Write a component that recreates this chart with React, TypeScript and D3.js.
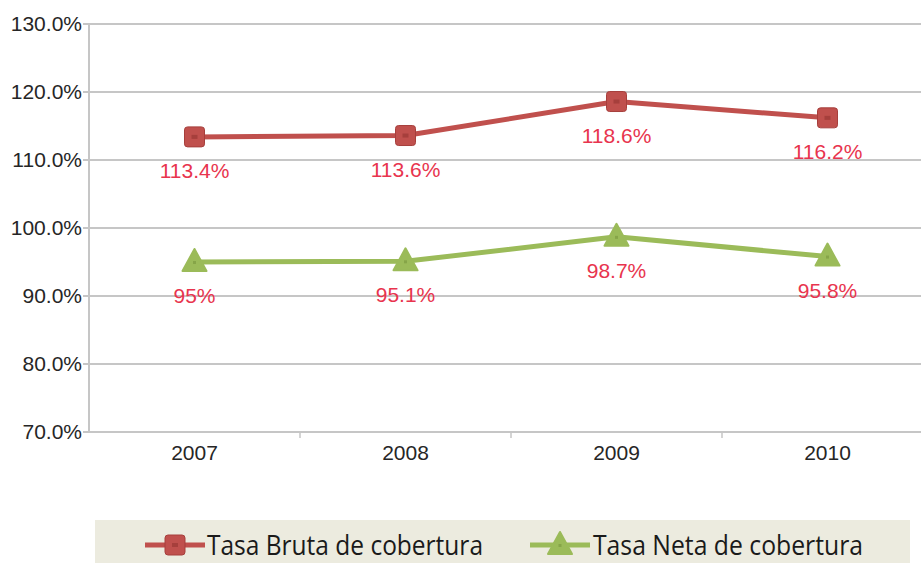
import React, { useEffect, useRef } from 'react';
import * as d3 from 'd3';

// categories and series (percent values)
const years = ['2007', '2008', '2009', '2010'];
const tasaBruta = [113.4, 113.6, 118.6, 116.2];
const tasaNeta = [95, 95.1, 98.7, 95.8];
const yTicks = [70, 80, 90, 100, 110, 120, 130];
const seriesNames = ['Tasa Bruta de cobertura', 'Tasa Neta de cobertura'];

const W = 921;
const H = 563;
const RED = '#c0504d';
const RED_DARK = '#a63f3c';
const GREEN = '#9bbb59';
const GREEN_DARK = '#86a548';
const LABEL = '#e8344e';
const FONT = 'Arial, "Liberation Sans", sans-serif';

export default function App() {
  const svgRef = useRef<SVGSVGElement>(null);

  useEffect(() => {
    const svg = d3.select(svgRef.current);
    svg.selectAll('*').remove();

    const x = d3.scaleBand<string>().domain(years).range([89, 933]).padding(0);
    const y = d3.scaleLinear().domain([70, 130]).range([432, 24]);
    const cx = (yr: string) => (x(yr) as number) + x.bandwidth() / 2;

    svg.append('rect').attr('width', W).attr('height', H).attr('fill', '#fff');

    // gridlines
    svg.append('g')
      .selectAll('line')
      .data(yTicks)
      .join('line')
      .attr('x1', 83)
      .attr('x2', W)
      .attr('y1', d => y(d))
      .attr('y2', d => y(d))
      .attr('stroke', '#c6c6c6')
      .attr('stroke-width', 2);

    // y axis line
    svg.append('line')
      .attr('x1', 89).attr('x2', 89)
      .attr('y1', y(130)).attr('y2', y(70))
      .attr('stroke', '#c6c6c6').attr('stroke-width', 2);

    // x tick marks at band boundaries
    svg.append('g')
      .selectAll('line')
      .data(years.slice(1))
      .join('line')
      .attr('x1', d => x(d) as number)
      .attr('x2', d => x(d) as number)
      .attr('y1', y(70))
      .attr('y2', y(70) + 6)
      .attr('stroke', '#c6c6c6')
      .attr('stroke-width', 1.5);

    // y labels
    svg.append('g')
      .selectAll('text')
      .data(yTicks)
      .join('text')
      .attr('x', 82)
      .attr('y', d => y(d) + 7)
      .attr('text-anchor', 'end')
      .attr('font-family', FONT)
      .attr('font-size', 21)
      .attr('fill', '#262626')
      .text(d => d3.format('.1f')(d) + '%');

    // x labels
    svg.append('g')
      .selectAll('text')
      .data(years)
      .join('text')
      .attr('x', d => cx(d))
      .attr('y', 460)
      .attr('text-anchor', 'middle')
      .attr('font-family', FONT)
      .attr('font-size', 21)
      .attr('fill', '#262626')
      .text(d => d);

    const line = d3.line<number>()
      .x((_, i) => cx(years[i]))
      .y(d => y(d));

    const series = [
      { vals: tasaBruta, color: RED, dark: RED_DARK, shape: 'square' },
      { vals: tasaNeta, color: GREEN, dark: GREEN_DARK, shape: 'triangle' },
    ];

    const marker = (g: any, shape: string, color: string, dark: string, px: number, py: number) => {
      if (shape === 'square') {
        g.append('rect')
          .attr('x', px - 10).attr('y', py - 10)
          .attr('width', 20).attr('height', 20)
          .attr('rx', 3)
          .attr('fill', color)
          .attr('stroke', dark).attr('stroke-width', 1);
        g.append('rect')
          .attr('x', px - 3).attr('y', py - 2)
          .attr('width', 6).attr('height', 4)
          .attr('fill', dark);
      } else {
        g.append('path')
          .attr('d', `M${px},${py - 13}L${px + 12},${py + 9}L${px - 12},${py + 9}Z`)
          .attr('fill', color)
          .attr('stroke', color).attr('stroke-width', 2).attr('stroke-linejoin', 'round');
        g.append('rect')
          .attr('x', px - 1.5).attr('y', py - 1)
          .attr('width', 3).attr('height', 3)
          .attr('fill', dark);
      }
    };

    series.forEach(s => {
      svg.append('path')
        .datum(s.vals)
        .attr('d', line)
        .attr('fill', 'none')
        .attr('stroke', s.color)
        .attr('stroke-width', 5)
        .attr('stroke-linejoin', 'round');
      const mg = svg.append('g');
      s.vals.forEach((v, i) => marker(mg, s.shape, s.color, s.dark, cx(years[i]), y(v)));
      svg.append('g')
        .selectAll('text')
        .data(s.vals)
        .join('text')
        .attr('x', (_, i) => cx(years[i]))
        .attr('y', d => y(d) + 41)
        .attr('text-anchor', 'middle')
        .attr('font-family', FONT)
        .attr('font-size', 21)
        .attr('fill', LABEL)
        .text(d => `${d}%`);
    });

    // legend
    const lg = svg.append('g');
    lg.append('rect')
      .attr('x', 95).attr('y', 520)
      .attr('width', 815).attr('height', 43)
      .attr('fill', '#ecebdf');
    const items = [
      { x0: 145, tx: 207, color: RED, dark: RED_DARK, shape: 'square', len: 276 },
      { x0: 530, tx: 593, color: GREEN, dark: GREEN_DARK, shape: 'triangle', len: 270 },
    ];
    items.forEach((it, i) => {
      lg.append('line')
        .attr('x1', it.x0).attr('x2', it.x0 + 60)
        .attr('y1', 545).attr('y2', 545)
        .attr('stroke', it.color).attr('stroke-width', 5);
      marker(lg, it.shape, it.color, it.dark, it.x0 + 30, 545);
      lg.append('text')
        .attr('x', it.tx)
        .attr('y', 555)
        .attr('font-family', '"Open Sans", "Noto Sans", sans-serif')
        .attr('font-size', 27)
        .attr('textLength', it.len)
        .attr('lengthAdjust', 'spacingAndGlyphs')
        .attr('fill', '#1a1a1a')
        .text(seriesNames[i]);
    });
  }, []);

  return (
    <svg
      ref={svgRef}
      width={W}
      height={H}
      style={{ position: 'absolute', left: 0, top: 0, display: 'block' }}
    />
  );
}
